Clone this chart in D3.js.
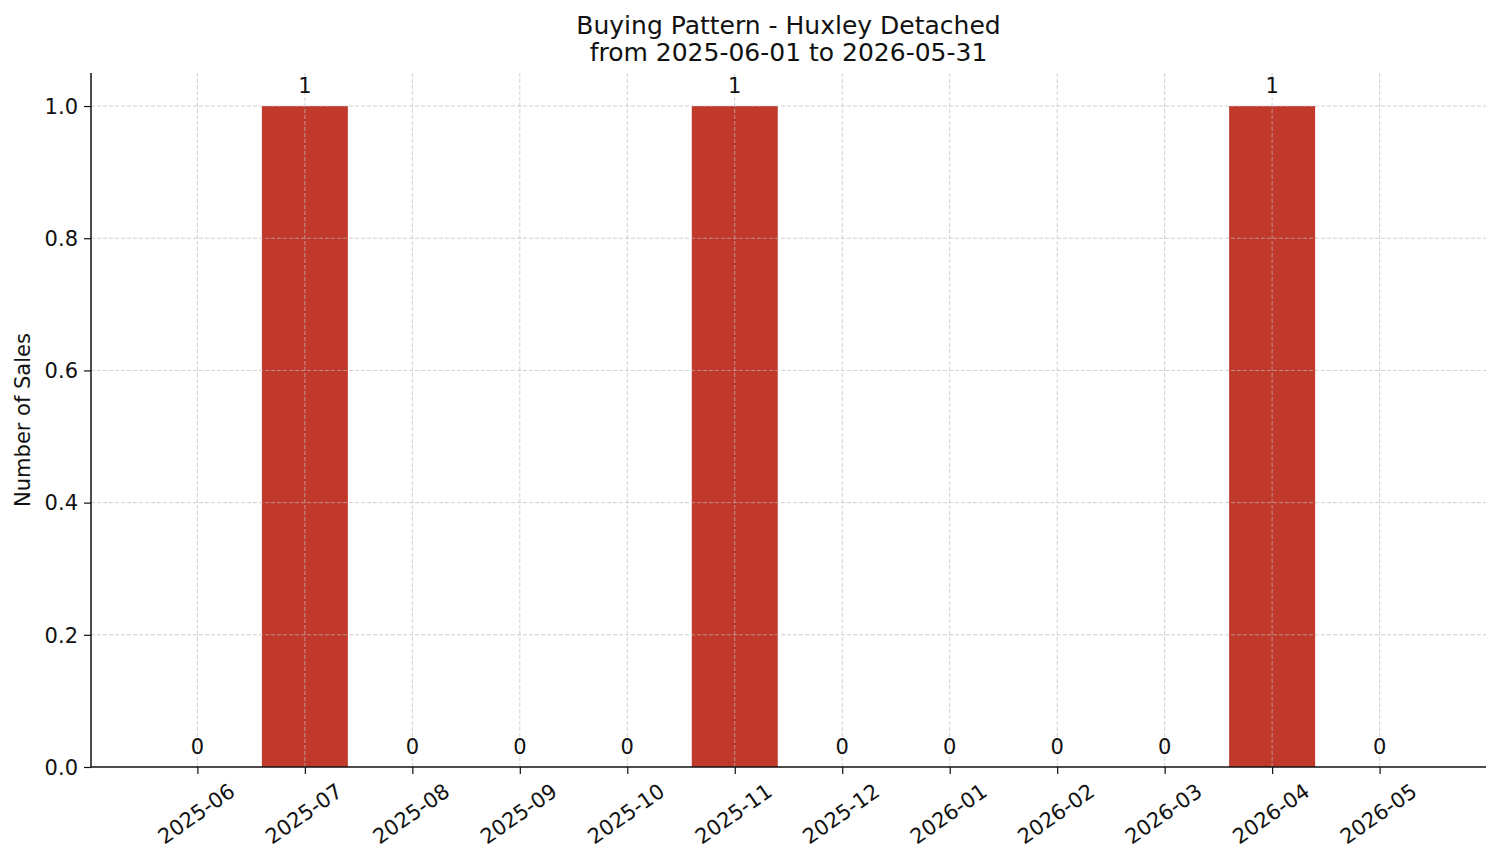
<meta charset="utf-8">
<script src="https://d3js.org/d3.v7.min.js"></script>
<style>
  body { margin: 0; background: #fff; }
  text { font-family: "DejaVu Sans", sans-serif; fill: #111; }
</style>
<div id="chart"></div>
<script>
  // monthly sales counts
  const months = ["2025-06","2025-07","2025-08","2025-09","2025-10","2025-11",
                  "2025-12","2026-01","2026-02","2026-03","2026-04","2026-05"]
  const sales = [0,1,0,0,0,1,0,0,0,0,1,0]
  const yTicks = [0,0.2,0.4,0.6,0.8,1.0]
  const titleLines = ["Buying Pattern - Huxley Detached", "from 2025-06-01 to 2026-05-31"]

  const width = 1501, height = 863
  const margin = {top: 73, right: 15, bottom: 96, left: 91}
  const x0 = margin.left, x1 = width - margin.right
  const y0 = height - margin.bottom, y1 = margin.top
  const fs = "21px"

  const svg = d3.select("#chart").append("svg")
    .attr("width", width).attr("height", height)

  // matplotlib-ish limits: bars 0.8 wide, 5% margin
  const x = d3.scaleLinear().domain([-0.99, months.length - 1 + 0.99]).range([x0, x1])
  const y = d3.scaleLinear().domain([0, 1.05]).range([y0, y1])
  const bw = x(0.8) - x(0)

  // bars
  svg.selectAll("rect.bar")
    .data(sales)
    .enter().append("rect")
    .attr("class", "bar")
    .attr("x", (d, i) => x(i) - bw / 2)
    .attr("y", d => y(d))
    .attr("width", bw)
    .attr("height", d => y(0) - y(d))
    .style("fill", "#c0392b")

  // grid (drawn on top like the reference)
  const grid = svg.append("g")
  grid.selectAll("line.gy")
    .data(yTicks.slice(1))
    .enter().append("line")
    .attr("x1", x0).attr("x2", x1)
    .attr("y1", d => y(d)).attr("y2", d => y(d))
    .style("stroke", "#bdbdbd").style("stroke-width", 0.8)
    .style("stroke-dasharray", "4,2").style("opacity", 0.85)
  grid.selectAll("line.gx")
    .data(months)
    .enter().append("line")
    .attr("x1", (d, i) => x(i)).attr("x2", (d, i) => x(i))
    .attr("y1", y0).attr("y2", y1)
    .style("stroke", "#bdbdbd").style("stroke-width", 0.8)
    .style("stroke-dasharray", "4,2").style("opacity", 0.85)

  // y axis
  const yAxis = d3.axisLeft(y).tickValues(yTicks).tickFormat(d3.format(".1f"))
    .tickSize(7).tickPadding(6)
  const gy = svg.append("g").attr("transform", "translate(" + x0 + ",0)").call(yAxis)
  gy.select(".domain").attr("d", "M0," + y0 + "V" + y1)
  gy.selectAll("text").style("font-size", fs).attr("dy", "0.35em")

  // x axis
  const xAxis = d3.axisBottom(x).tickValues(d3.range(months.length))
    .tickFormat(i => months[i]).tickSize(7)
  const gx = svg.append("g").attr("transform", "translate(0," + y0 + ")").call(xAxis)
  gx.select(".domain").attr("d", "M" + x0 + ",0H" + x1)
  gx.selectAll("text")
    .style("font-size", fs)
    .attr("text-anchor", "middle")
    .attr("dominant-baseline", "central")
    .attr("y", 0).attr("dy", null)
    .attr("transform", "translate(-1.5,47) rotate(-35)")

  svg.selectAll(".domain").style("stroke", "#111").style("stroke-width", 1.5)
  svg.selectAll(".tick line").style("stroke", "#111").style("stroke-width", 1.2)

  // bar value labels
  svg.selectAll("text.val")
    .data(sales)
    .enter().append("text")
    .attr("class", "val")
    .attr("x", (d, i) => x(i))
    .attr("y", d => y(d) - 13)
    .attr("text-anchor", "middle")
    .style("font-size", fs)
    .text(d => d)

  // y label
  svg.append("text")
    .attr("transform", "translate(30," + ((y0 + y1) / 2) + ") rotate(-90)")
    .attr("text-anchor", "middle")
    .style("font-size", fs)
    .text("Number of Sales")

  // title
  svg.selectAll("text.title")
    .data(titleLines)
    .enter().append("text")
    .attr("class", "title")
    .attr("x", (x0 + x1) / 2)
    .attr("y", (d, i) => 34 + i * 27)
    .attr("text-anchor", "middle")
    .style("font-size", "25px")
    .text(d => d)
</script>
